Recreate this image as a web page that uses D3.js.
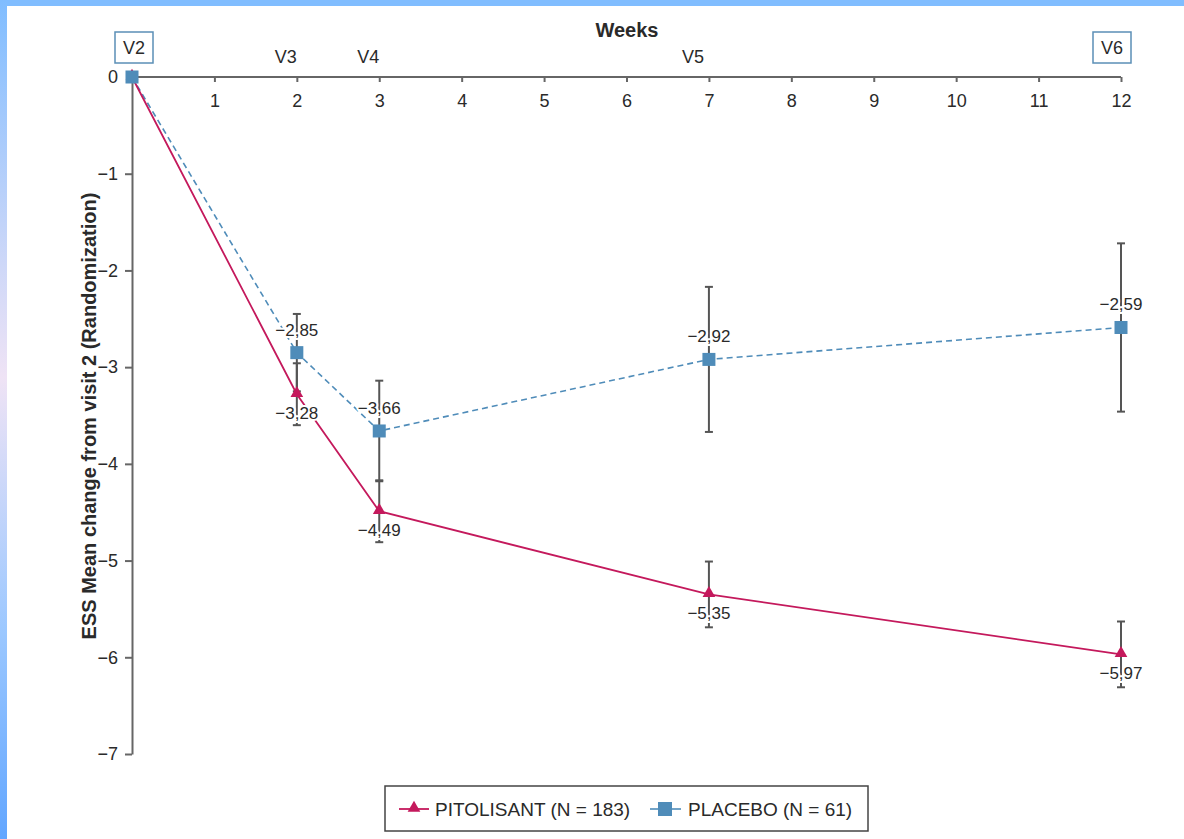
<!DOCTYPE html>
<meta charset="utf-8">
<html lang="en">
  <head>
    <style>
      body { margin: 0; background-color: #fff; }
      svg text { font-family: "Helvetica Neue", Helvetica, Arial, sans-serif; fill: #2a2a2a; }
      .axis path, .axis line { stroke: #666; stroke-width: 2px; }
      .axis text { fill: #2a2a2a; }
      .err { stroke: #555; stroke-width: 2px; }
    </style>
  </head>
  <body>
    <script src="https://d3js.org/d3.v7.min.js"></script>
    <svg></svg>
    <script>

      // data
      var weeks = [0, 2, 3, 7, 12];
      var visits = ["V2", "V3", "V4", "V5", "V6"];
      var pitolisant = [0, -3.28, -4.49, -5.35, -5.97];
      var pitolisantErr = [0, 0.32, 0.32, 0.34, 0.34];
      var placebo = [0, -2.85, -3.66, -2.92, -2.59];
      var placeboErr = [0, 0.40, 0.52, 0.75, 0.87];
      var xTicks = [0, 1, 2, 3, 4, 5, 6, 7, 8, 9, 10, 11, 12];
      var yTicks = [0, -1, -2, -3, -4, -5, -6, -7];
      var seriesNames = ["PITOLISANT (N = 183)", "PLACEBO (N = 61)"];

      var width = 1184, height = 839;
      var pitColor = "#c4195c", plaColor = "#4f8cb9";

      var svg = d3.select("svg")
        .attr("width", width)
        .attr("height", height);

      // frame bands
      var defs = svg.append("defs");
      var grad = defs.append("linearGradient")
        .attr("id", "side").attr("x1", 0).attr("y1", 0).attr("x2", 0).attr("y2", 1);
      grad.append("stop").attr("offset", "0").attr("stop-color", "#80bdff");
      grad.append("stop").attr("offset", "0.45").attr("stop-color", "#efe3f5");
      grad.append("stop").attr("offset", "0.75").attr("stop-color", "#9cc8ff");
      grad.append("stop").attr("offset", "1").attr("stop-color", "#62a6ff");
      svg.append("rect").attr("x", 0).attr("y", 0).attr("width", width).attr("height", 6).attr("fill", "#80bdff");
      svg.append("rect").attr("x", 0).attr("y", 0).attr("width", 7).attr("height", height).attr("fill", "url(#side)");

      var x = d3.scaleLinear().domain([0, 12]).range([132, 1121]);
      var y = d3.scaleLinear().domain([0, -7]).range([77, 754]);

      // axes
      svg.append("g")
        .attr("class", "axis")
        .attr("transform", "translate(0," + y(0) + ")")
        .call(d3.axisBottom(x).tickValues(xTicks.slice(1)).tickSize(5).tickSizeOuter(0).tickPadding(12))
        .call(function(g) {
          g.select(".domain").attr("d", "M" + x(0) + ",0H" + x(12));
          g.selectAll("text").style("font-size", "18px");
        });

      svg.append("g")
        .attr("class", "axis")
        .attr("transform", "translate(" + x(0) + ",0)")
        .call(d3.axisLeft(y).tickValues(yTicks).tickSize(7).tickSizeOuter(0).tickPadding(7)
          .tickFormat(function(d) { return d === 0 ? "0" : "\u2212" + Math.abs(d); }))
        .call(function(g) {
          g.selectAll(".tick line").filter(function(d) { return d === 0; }).remove();
          g.selectAll("text").style("font-size", "18px");
        });

      svg.append("text")
        .attr("x", 627).attr("y", 37)
        .attr("text-anchor", "middle")
        .style("font-size", "20px").style("font-weight", "bold")
        .text("Weeks");

      svg.append("text")
        .attr("transform", "translate(96,416) rotate(-90)")
        .attr("text-anchor", "middle")
        .style("font-size", "20px").style("font-weight", "bold")
        .text("ESS Mean change from visit 2 (Randomization)");

      // visit labels
      var visitShift = [2, -11, -11, -16, -9];
      visits.forEach(function(v, i) {
        var cx = x(weeks[i]) + visitShift[i];
        var boxed = (i === 0 || i === visits.length - 1);
        if (boxed) {
          svg.append("rect")
            .attr("x", cx - 19).attr("y", 32).attr("width", 38).attr("height", 31)
            .attr("fill", "#fff").attr("stroke", "#5b8fb6").attr("stroke-width", 1.5);
        }
        svg.append("text")
          .attr("x", cx).attr("y", boxed ? 54 : 63)
          .attr("text-anchor", "middle")
          .style("font-size", "18px")
          .text(v);
      });

      function fmt(v) { return "\u2212" + Math.abs(v).toFixed(2).replace(".", ","); }

      // error bars
      function errorBars(vals, errs) {
        var idx = d3.range(vals.length).filter(function(i) { return errs[i] > 0; });
        var g = svg.append("g");
        g.selectAll(".err-v").data(idx).enter().append("line")
          .attr("class", "err")
          .attr("x1", function(i) { return x(weeks[i]); })
          .attr("x2", function(i) { return x(weeks[i]); })
          .attr("y1", function(i) { return y(vals[i] + errs[i]); })
          .attr("y2", function(i) { return y(vals[i] - errs[i]); });
        [1, -1].forEach(function(s) {
          g.selectAll(".cap").data(idx).enter().append("line")
            .attr("class", "err")
            .attr("x1", function(i) { return x(weeks[i]) - 4; })
            .attr("x2", function(i) { return x(weeks[i]) + 4; })
            .attr("y1", function(i) { return y(vals[i] + s * errs[i]); })
            .attr("y2", function(i) { return y(vals[i] + s * errs[i]); });
        });
      }
      errorBars(placebo, placeboErr);
      errorBars(pitolisant, pitolisantErr);

      // lines
      var line = d3.line()
        .x(function(d, i) { return x(weeks[i]); })
        .y(function(d) { return y(d); });

      svg.append("path").datum(placebo)
        .attr("d", line).attr("fill", "none")
        .attr("stroke", plaColor).attr("stroke-width", 1.6).attr("stroke-dasharray", "6,4");
      svg.append("path").datum(pitolisant)
        .attr("d", line).attr("fill", "none")
        .attr("stroke", pitColor).attr("stroke-width", 1.8);

      // value labels, with a white halo that breaks the error bars
      function valueLabels(vals, dy) {
        svg.append("g").selectAll("text").data(vals.slice(1)).enter().append("text")
          .attr("x", function(d, i) { return x(weeks[i + 1]); })
          .attr("y", function(d) { return y(d) + dy; })
          .attr("text-anchor", "middle")
          .attr("stroke", "#fff").attr("stroke-width", 4)
          .attr("stroke-linejoin", "round").attr("paint-order", "stroke")
          .style("font-size", "17px")
          .text(fmt);
      }
      valueLabels(placebo, -17);
      valueLabels(pitolisant, 25);

      // markers
      var tri = d3.symbol().type(d3.symbolTriangle).size(70);
      svg.append("g").selectAll("path").data(pitolisant).enter().append("path")
        .attr("d", tri)
        .attr("transform", function(d, i) { return "translate(" + x(weeks[i]) + "," + (y(d) - 1) + ")"; })
        .attr("fill", pitColor);
      svg.append("g").selectAll("rect").data(placebo).enter().append("rect")
        .attr("x", function(d, i) { return x(weeks[i]) - 6.5; })
        .attr("y", function(d) { return y(d) - 6.5; })
        .attr("width", 13).attr("height", 13)
        .attr("fill", plaColor);

      // legend
      var lg = svg.append("g");
      lg.append("rect").attr("x", 385).attr("y", 786).attr("width", 483).attr("height", 45)
        .attr("fill", "#fff").attr("stroke", "#444").attr("stroke-width", 1.5);
      lg.append("line").attr("x1", 399).attr("x2", 429).attr("y1", 809).attr("y2", 809)
        .attr("stroke", pitColor).attr("stroke-width", 1.8);
      lg.append("path").attr("d", tri).attr("transform", "translate(414,808)").attr("fill", pitColor);
      lg.append("text").attr("x", 435).attr("y", 816).style("font-size", "19px").text(seriesNames[0]);
      lg.append("line").attr("x1", 650).attr("x2", 681).attr("y1", 809).attr("y2", 809)
        .attr("stroke", plaColor).attr("stroke-width", 1.6);
      lg.append("rect").attr("x", 658).attr("y", 802).attr("width", 14).attr("height", 14).attr("fill", plaColor);
      lg.append("text").attr("x", 688).attr("y", 816).style("font-size", "19px").text(seriesNames[1]);

    </script>
  </body>
</html>
